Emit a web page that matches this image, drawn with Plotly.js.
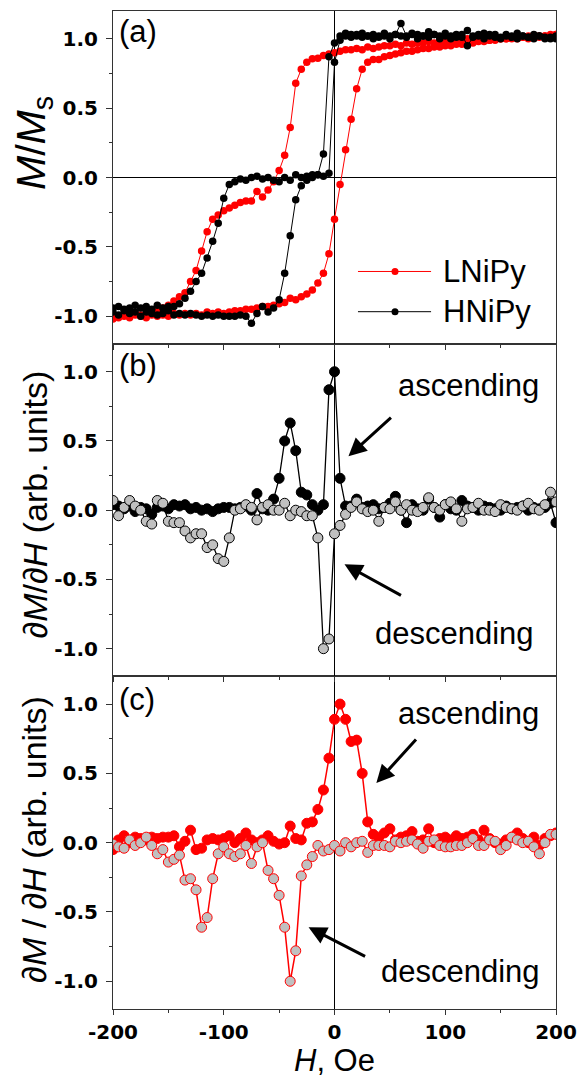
<!DOCTYPE html>
<html><head><meta charset="utf-8">
<script src="https://cdn.plot.ly/plotly-3.0.1.min.js"></script>
<style>html,body{margin:0;padding:0;background:#fff}</style>
</head><body><div id="plot" style="width:580px;height:1078px"></div>
<script>
// Field H (Oe)
const H = [-200,-195,-190,-185,-180,-175,-170,-165,-160,-155,-150,-145,-140,-135,-130,-125,-120,-115,-110,-105,
-100,-95,-90,-85,-80,-75,-70,-65,-60,-55,-50,-45,-40,-35,-30,-25,-20,-15,-10,-5,
0,5,10,15,20,25,30,35,40,45,50,55,60,65,70,75,80,85,90,95,
100,105,110,115,120,125,130,135,140,145,150,155,160,165,170,175,180,185,190,195,200];

// (a) M/Ms, LNiPy descending (upper) branch, listed by increasing H
const L_desc = [-1.01,-1.0,-0.99,-1.0,-0.98,-0.99,-0.98,-0.97,-0.96,-0.94,-0.92,-0.89,-0.86,-0.83,-0.75,-0.67,-0.53,-0.39,-0.30,-0.27,
-0.24,-0.22,-0.20,-0.18,-0.17,-0.17,-0.10,-0.14,-0.09,-0.03,0.05,0.16,0.36,0.68,0.78,0.83,0.855,0.86,0.88,0.89,
0.90,0.91,0.92,0.92,0.93,0.92,0.94,0.93,0.94,0.95,0.95,0.96,0.95,0.97,0.96,0.97,0.97,0.98,0.97,0.98,
0.98,0.99,0.98,0.99,1.0,0.99,1.0,1.0,0.99,1.01,1.0,1.0,1.01,1.0,1.01,1.02,1.01,1.02,1.02,1.03,1.03];
// LNiPy ascending (lower) branch
const L_asc = [-1.02,-1.01,-1.0,-1.01,-0.99,-1.0,-1.01,-0.99,-1.0,-0.99,-1.0,-0.98,-0.99,-0.98,-0.99,-0.98,-0.99,-0.97,-0.98,-0.97,
-0.98,-0.97,-0.96,-0.96,-0.95,-0.95,-0.94,-0.93,-0.93,-0.92,-0.91,-0.90,-0.87,-0.88,-0.86,-0.84,-0.81,-0.76,-0.69,-0.55,
-0.30,-0.05,0.20,0.42,0.64,0.78,0.83,0.85,0.85,0.87,0.88,0.89,0.90,0.91,0.91,0.92,0.93,0.93,0.94,0.94,
0.95,0.95,0.96,0.96,0.97,0.97,0.98,0.98,0.99,0.99,1.0,1.0,1.0,1.01,1.01,1.0,1.02,1.01,1.02,1.02,1.03];
// HNiPy descending (upper) branch
const Hn_desc = [-0.94,-0.93,-0.95,-0.94,-0.92,-0.94,-0.93,-0.95,-0.92,-0.94,-0.93,-0.93,-0.91,-0.87,-0.82,-0.75,-0.69,-0.58,-0.46,-0.33,
-0.15,-0.05,-0.03,-0.01,-0.02,0.0,0.01,-0.01,0.0,-0.02,-0.03,0.0,-0.02,0.02,0.0,0.01,0.02,0.02,0.17,0.87,
0.97,1.02,1.04,1.03,1.02,1.04,1.02,1.03,1.02,1.04,1.02,1.03,1.11,1.02,1.04,1.03,1.02,1.05,1.03,1.02,
1.04,1.02,1.03,1.01,1.06,1.02,1.03,1.04,1.02,1.03,1.01,1.03,1.02,1.04,1.02,1.01,1.03,1.02,1.0,1.01,1.0];
// HNiPy ascending (lower) branch
const Hn_asc = [-0.97,-0.99,-0.96,-0.98,-0.97,-1.0,-0.97,-0.98,-0.99,-0.98,-0.96,-0.99,-0.98,-0.99,-0.98,-0.99,-1.0,-0.99,-1.0,-0.99,
-1.0,-1.0,-1.0,-0.99,-1.0,-1.05,-0.98,-0.93,-0.97,-0.94,-0.88,-0.69,-0.42,-0.16,-0.06,-0.02,0.0,0.02,0.01,0.03,
0.83,0.99,1.02,1.01,1.03,1.01,1.02,1.0,1.01,1.02,1.0,1.03,1.02,1.01,1.03,1.0,1.02,1.01,1.03,1.0,
1.02,1.0,1.01,1.03,0.95,1.01,1.02,1.0,1.03,1.01,1.0,1.02,1.01,1.0,1.02,1.01,1.0,1.02,1.01,1.0,1.02];

// (b) dM/dH of HNiPy
const dH_asc = [0.04,0.03,0.01,0.03,-0.01,0.02,0.01,-0.03,0.02,0.03,0.01,0.04,0.03,0.04,0.01,0.02,0.0,0.01,-0.01,0.01,
0.02,0.02,0.01,0.02,0.03,0.0,0.12,0.01,0.0,0.08,0.23,0.50,0.63,0.43,0.13,0.11,0.04,0.0,0.04,0.87,
1.0,0.23,0.03,0.03,0.08,0.02,0.03,0.04,0.01,0.02,0.05,0.10,0.0,-0.09,0.04,0.01,0.0,0.08,0.02,-0.05,
0.04,0.01,0.0,0.07,0.03,0.02,0.0,0.03,0.02,0.01,0.0,0.03,0.01,0.02,0.03,0.0,0.02,0.01,0.02,0.05,-0.09];
const dH_desc = [0.07,-0.04,0.02,0.07,0.03,0.0,-0.08,-0.10,0.07,0.05,-0.08,-0.09,-0.09,-0.15,-0.20,-0.17,-0.17,-0.27,-0.25,-0.35,
-0.37,-0.20,0.0,0.01,0.04,0.02,-0.07,0.02,0.04,0.0,0.0,0.05,-0.04,0.0,-0.01,-0.04,-0.04,-0.20,-1.0,-0.93,
-0.17,-0.11,-0.03,0.02,0.06,0.01,-0.01,0.0,-0.08,0.02,0.01,0.06,0.0,0.04,0.0,-0.01,0.02,0.09,0.02,0.0,
0.04,0.06,0.01,-0.08,0.01,0.02,0.05,0.0,0.0,-0.01,0.04,0.02,0.01,0.0,0.03,0.05,0.01,0.0,0.04,0.13,0.06];

// (c) dM/dH of LNiPy
const dL_asc = [-0.05,0.02,0.05,0.0,0.04,0.03,0.02,0.04,0.03,0.04,0.04,0.05,-0.03,0.01,0.09,-0.05,-0.04,0.02,0.03,0.02,
0.03,0.05,0.0,0.03,0.07,0.02,0.0,0.02,0.05,0.01,-0.01,0.0,0.12,0.03,0.02,0.14,0.15,0.24,0.38,0.61,
0.89,1.0,0.89,0.73,0.74,0.50,0.15,0.06,0.04,0.07,0.10,0.02,0.04,0.05,0.08,0.01,0.02,0.10,0.0,0.03,
0.04,0.02,0.05,0.03,0.04,0.06,0.02,0.09,0.03,0.0,-0.01,0.02,0.04,0.07,0.03,0.0,0.04,-0.02,0.03,0.05,0.07];
const dL_desc = [-0.01,-0.03,-0.04,0.02,-0.02,0.0,0.04,-0.02,-0.08,-0.05,-0.14,-0.12,-0.09,-0.27,-0.26,-0.34,-0.61,-0.54,-0.26,-0.08,
-0.03,-0.08,-0.10,-0.08,-0.02,-0.15,-0.03,0.0,-0.20,-0.26,-0.38,-0.61,-1.0,-0.78,-0.24,-0.16,-0.10,-0.02,-0.06,-0.05,
-0.02,-0.06,0.0,-0.03,0.0,0.01,-0.07,-0.02,-0.02,-0.02,-0.03,0.01,0.0,0.01,0.02,-0.01,-0.04,0.01,0.02,-0.02,
-0.03,-0.03,-0.02,-0.02,0.0,0.03,-0.02,-0.02,0.02,0.01,-0.05,-0.02,0.04,0.02,0.0,0.01,-0.03,-0.08,0.0,0.06,0.06];

const seriesNames = ['LNiPy','HNiPy'];
const yTickVals = [-1, -0.5, 0, 0.5, 1];
const yTickText = ['-1.0','-0.5','0.0','0.5','1.0'];
const xTickVals = [-200, -100, 0, 100, 200];
const xTickText = ['-200','-100','0','100','200'];

const RED = '#ff0000', GREY = '#c0c0c0', BLACK = '#000000';
const Hrev = H.slice().reverse();
const loop = (desc, asc) => ({x: Hrev.concat(H), y: desc.slice().reverse().concat(asc)});
const lL = loop(L_desc, L_asc), lH = loop(Hn_desc, Hn_asc);

const traces = [
  {x: lL.x, y: lL.y, xaxis:'x3', yaxis:'y3', mode:'lines+markers', name: seriesNames[0],
   line:{color:RED, width:1}, marker:{color:RED, size:7.5}},
  {x: lH.x, y: lH.y, xaxis:'x3', yaxis:'y3', mode:'lines+markers', name: seriesNames[1],
   line:{color:BLACK, width:1}, marker:{color:BLACK, size:7.5}},
  {x: H, y: dH_asc, xaxis:'x2', yaxis:'y2', mode:'lines+markers',
   line:{color:BLACK, width:1.3}, marker:{color:BLACK, size:10, line:{color:BLACK, width:1}}},
  {x: H, y: dH_desc, xaxis:'x2', yaxis:'y2', mode:'lines+markers',
   line:{color:BLACK, width:1.3}, marker:{color:GREY, size:10, line:{color:BLACK, width:1}}},
  {x: H, y: dL_asc, xaxis:'x', yaxis:'y', mode:'lines+markers',
   line:{color:RED, width:1.5}, marker:{color:RED, size:10, line:{color:RED, width:1}}},
  {x: H, y: dL_desc, xaxis:'x', yaxis:'y', mode:'lines+markers',
   line:{color:RED, width:1.5}, marker:{color:GREY, size:10, line:{color:RED, width:1}}}
];

const tickFont = {family:'DejaVu Sans', size:20, weight:'bold', color:'#000'};
const FRAME = '#333333';
function xax(showLabels, anchor){
  return {range:[-200,200], anchor: anchor, tickmode:'array', tickvals:xTickVals, ticktext:xTickText,
    showticklabels: showLabels, ticks:'outside', ticklen:5, tickwidth:1, tickcolor:FRAME,
    minor:{tickmode:'linear', tick0:0, dtick:50, ticks:'outside', ticklen:3, tickcolor:FRAME},
    showgrid:false, zeroline:true, zerolinecolor:'#000', zerolinewidth:1,
    showline:true, mirror:true, linecolor:FRAME, linewidth:1, tickfont:tickFont};
}
function yax(domain, anchor, zero){
  return {range:[-1.2,1.2], domain:domain, anchor:anchor, tickmode:'array', tickvals:yTickVals, ticktext:yTickText,
    ticks:'outside', ticklen:6, tickwidth:1, tickcolor:FRAME,
    minor:{tickmode:'linear', tick0:0, dtick:0.25, ticks:'outside', ticklen:3, tickcolor:FRAME},
    showgrid:false, zeroline:zero, zerolinecolor:'#000', zerolinewidth:1,
    showline:true, mirror:true, linecolor:FRAME, linewidth:1, tickfont:tickFont, ticklabelstandoff:4};
}

const txtFont = {family:'Liberation Sans, Arial, sans-serif', size:31, color:'#000'};
const titleFont = {family:'Liberation Sans, Arial, sans-serif', size:34, color:'#000'};
const titleFontA = {family:'Liberation Sans, Arial, sans-serif', size:41, color:'#000'};

const ann = [
  {xref:'paper', yref:'paper', x:0.008, y:0.979, xanchor:'left', yanchor:'middle', text:'(a)', showarrow:false, font:txtFont},
  {xref:'paper', yref:'paper', x:0.008, y:0.645, xanchor:'left', yanchor:'middle', text:'(b)', showarrow:false, font:txtFont},
  {xref:'paper', yref:'paper', x:0.008, y:0.310, xanchor:'left', yanchor:'middle', text:'(c)', showarrow:false, font:txtFont},
  // y titles
  {xref:'paper', yref:'paper', x:-0.18, y:0.868, xanchor:'center', yanchor:'middle', textangle:-90, showarrow:false,
   text:'<i>M</i>/<i>M</i><sub>s</sub>', font:titleFontA},
  {xref:'paper', yref:'paper', x:-0.177, y:0.505, xanchor:'center', yanchor:'middle', textangle:-90, showarrow:false,
   text:'∂<i>M</i>/∂<i>H</i> (arb. units)', font:titleFont},
  {xref:'paper', yref:'paper', x:-0.177, y:0.17, xanchor:'center', yanchor:'middle', textangle:-90, showarrow:false,
   text:'∂<i>M</i> / ∂<i>H</i> (arb. units)', font:titleFont},
  // legend texts
  {xref:'paper', yref:'paper', x:0.740, y:0.739, xanchor:'left', yanchor:'middle', text:seriesNames[0], showarrow:false, font:txtFont},
  {xref:'paper', yref:'paper', x:0.740, y:0.6987, xanchor:'left', yanchor:'middle', text:seriesNames[1], showarrow:false, font:txtFont},
  // panel (b)
  {xref:'x2', yref:'y2', x:121, y:0.90, text:'ascending', showarrow:false, font:txtFont},
  {xref:'x2', yref:'y2', x:108, y:-0.89, text:'descending', showarrow:false, font:txtFont},
  {xref:'x2', yref:'y2', x:12.6, y:0.39, ax:44, ay:-40, text:'', showarrow:true, arrowhead:2, arrowsize:1.2, arrowwidth:3, arrowcolor:'#000', standoff:0},
  {xref:'x2', yref:'y2', x:9, y:-0.39, ax:58, ay:32, text:'', showarrow:true, arrowhead:2, arrowsize:1.2, arrowwidth:3, arrowcolor:'#000', standoff:0},
  // panel (c)
  {xref:'x', yref:'y', x:121, y:0.935, text:'ascending', showarrow:false, font:txtFont},
  {xref:'x', yref:'y', x:113.5, y:-0.93, text:'descending', showarrow:false, font:txtFont},
  {xref:'x', yref:'y', x:37.8, y:0.43, ax:41, ay:-45, text:'', showarrow:true, arrowhead:2, arrowsize:1.2, arrowwidth:3, arrowcolor:'#000', standoff:0},
  {xref:'x', yref:'y', x:-23.4, y:-0.61, ax:58, ay:30, text:'', showarrow:true, arrowhead:2, arrowsize:1.2, arrowwidth:3, arrowcolor:'#000', standoff:0}
];

// hand-drawn legend symbols
const shapes = [
  {type:'line', xref:'paper', yref:'paper', x0:0.553, x1:0.718, y0:0.739, y1:0.739, line:{color:RED, width:1}},
  {type:'line', xref:'paper', yref:'paper', x0:0.553, x1:0.718, y0:0.6987, y1:0.6987, line:{color:BLACK, width:1}},
  {type:'circle', xref:'paper', yref:'paper', xsizemode:'pixel', ysizemode:'pixel', xanchor:0.6366, yanchor:0.739,
   x0:-3.5, x1:3.5, y0:-3.5, y1:3.5, fillcolor:RED, line:{color:RED, width:0}},
  {type:'circle', xref:'paper', yref:'paper', xsizemode:'pixel', ysizemode:'pixel', xanchor:0.6366, yanchor:0.6987,
   x0:-3.5, x1:3.5, y0:-3.5, y1:3.5, fillcolor:BLACK, line:{color:BLACK, width:0}}
];

const xBottom = xax(true, 'y');
xBottom.title = {text:'<i>H</i>, Oe', font:txtFont, standoff:7};

const layout = {
  width:580, height:1078, margin:{l:113, r:24, t:11, b:69},
  paper_bgcolor:'#fff', plot_bgcolor:'#fff', showlegend:false,
  xaxis: xBottom,
  xaxis2: xax(false, 'y2'),
  xaxis3: xax(false, 'y3'),
  yaxis: yax([0, 0.3333], 'x', false),
  yaxis2: yax([0.3333, 0.6663], 'x2', false),
  yaxis3: yax([0.6663, 1], 'x3', true),
  annotations: ann, shapes: shapes
};
Plotly.newPlot('plot', traces, layout, {displayModeBar:false, staticPlot:true});
</script></body></html>
